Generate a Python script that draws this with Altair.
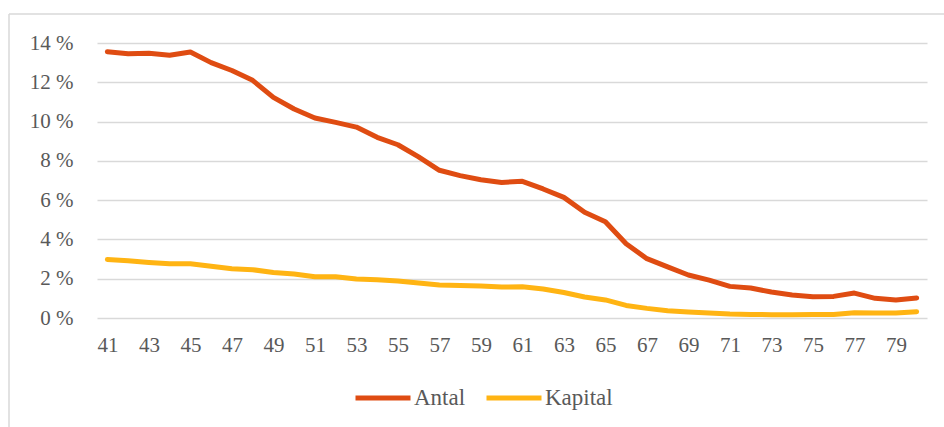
import altair as alt
import pandas as pd

ages = list(range(41, 81))
antal = [13.55, 13.45, 13.48, 13.38, 13.54, 13.0, 12.6, 12.1, 11.23, 10.64,
         10.18, 9.96, 9.72, 9.2, 8.82, 8.2, 7.52, 7.25, 7.04, 6.9,
         6.96, 6.57, 6.14, 5.38, 4.9, 3.78, 3.02, 2.6, 2.19, 1.93,
         1.61, 1.53, 1.32, 1.17, 1.08, 1.1, 1.27, 1.0, 0.92, 1.02]
kapital = [2.98, 2.92, 2.83, 2.76, 2.76, 2.63, 2.51, 2.46, 2.32, 2.24,
           2.1, 2.1, 1.98, 1.95, 1.88, 1.78, 1.68, 1.66, 1.63, 1.58,
           1.59, 1.48, 1.3, 1.07, 0.92, 0.64, 0.49, 0.37, 0.3, 0.25,
           0.2, 0.18, 0.17, 0.17, 0.18, 0.18, 0.27, 0.26, 0.26, 0.32]
series = ["Antal", "Kapital"]
colors = ["#DF4C12", "#FFB413"]
x_ticks = list(range(41, 80, 2))
y_ticks = [0, 2, 4, 6, 8, 10, 12, 14]

rows = []
for s, vals in zip(series, [antal, kapital]):
    for a, v in zip(ages, vals):
        rows.append({"age": a, "value": v, "series": s})
df = pd.DataFrame(rows)

FONT = "Liberation Serif"
GRAY = "#595959"

lines = alt.Chart(df).mark_line(strokeWidth=5, strokeCap="round", strokeJoin="round").encode(
    x=alt.X("age:Q", scale=alt.Scale(domain=[40.5, 80.5], nice=False, zero=False),
            axis=alt.Axis(values=x_ticks, title=None, grid=False, ticks=False, tickSize=0,
                          domain=False, labelPadding=16, labelFontSize=21,
                          labelFont=FONT, labelColor=GRAY, labelFlush=False)),
    y=alt.Y("value:Q", scale=alt.Scale(domain=[0, 14], nice=False),
            axis=alt.Axis(values=y_ticks, title=None, grid=True, gridColor="#D9D9D9",
                          gridWidth=1.5, ticks=False, tickSize=0, domain=False,
                          labelPadding=24, labelFontSize=21, labelFont=FONT,
                          labelColor=GRAY, labelExpr="datum.value + ' %'")),
    color=alt.Color("series:N", scale=alt.Scale(domain=series, range=colors),
                    legend=alt.Legend(title=None, orient="none", direction="horizontal",
                                      legendX=256, legendY=325,
                                      symbolType="stroke", symbolSize=3025,
                                      symbolStrokeWidth=5, labelFontSize=23,
                                      labelFont=FONT, labelColor=GRAY,
                                      labelOffset=1, columnPadding=10)),
)

frame_df = pd.DataFrame({"k": [0]})
left_border = alt.Chart(frame_df).mark_rule(color="#D9D9D9", strokeWidth=1.5).encode(
    x=alt.value(-88), y=alt.value(-29), y2=alt.value(384))
top_border = alt.Chart(frame_df).mark_rule(color="#D9D9D9", strokeWidth=1.5).encode(
    x=alt.value(-88), x2=alt.value(847), y=alt.value(-29))

chart = alt.layer(left_border, top_border, lines).properties(
    width=830, height=275,
    autosize=alt.AutoSizeParams(type="none"),
    padding={"left": 97, "top": 43, "right": 17, "bottom": 109},
    background="white",
).configure_view(stroke=None)

chart.save("out.html", embed_options={"renderer": "svg", "actions": False})
